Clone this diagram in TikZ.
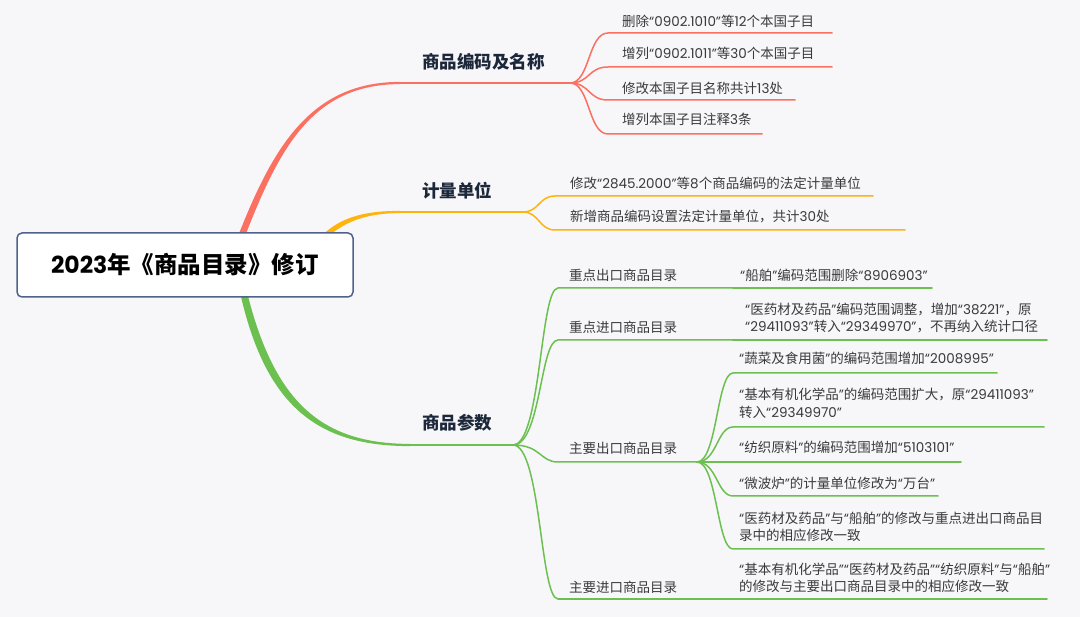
\documentclass[tikz,border=0pt]{standalone}
\usepackage{fontspec}
\setmainfont{Noto Sans CJK SC}
\newfontfamily\cjkfont{Noto Sans CJK SC}
\newfontfamily\latfont{Poppins}
\usetikzlibrary{calc}
\makeatletter
\chardef\latcls=10
\XeTeXcharclass"201C=\latcls
\XeTeXcharclass"201D=\latcls
\XeTeXcharclass"2E=\latcls
\@tempcnta="30
\loop\XeTeXcharclass\@tempcnta=\latcls\relax\ifnum\@tempcnta<"39 \advance\@tempcnta\@ne\repeat
\def\setlt#1{\XeTeXinterchartoks #1 \latcls={\latfont}\XeTeXinterchartoks \latcls #1={\cjkfont}}
\setlt{0}\setlt{1}\setlt{2}\setlt{3}\setlt{4095}
\makeatother
\definecolor{bgc}{RGB}{247,247,250}
\definecolor{redc}{RGB}{251,112,96}
\definecolor{yelc}{RGB}{255,180,10}
\definecolor{grnc}{RGB}{108,192,80}
\definecolor{rootc}{RGB}{79,98,140}
\definecolor{txtc}{RGB}{58,58,62}
\definecolor{lblc}{RGB}{28,40,58}
\tikzset{
  ctext/.style={anchor=west, inner sep=0pt, text=txtc, font=\fontsize{13.5}{17.5}\selectfont, align=left},
  blabel/.style={anchor=west, inner sep=0pt, text=lblc, font=\bfseries\fontsize{17.5}{20}\selectfont},
  conn/.style={line width=1.5pt, line cap=round},
  bline/.style={line width=2.2pt},
}
\begin{document}
\XeTeXinterchartokenstate=1
\begin{tikzpicture}[x=1pt,y=-1pt]
\useasboundingbox (0,0) rectangle (1080,617);
\fill[bgc] (0,0) rectangle (1080,617);
\path (185,265) coordinate (rootc0);
\coordinate (rs) at (240,240);
\coordinate (ys) at (320,241);
\coordinate (gs) at (243,290);
% red branch coordinates
\coordinate (b1s) at (400,83);
\coordinate (b1e) at (570,83);
\coordinate (c11s) at (608,33);  \coordinate (c11e) at (832,33);
\coordinate (c12s) at (608,67);  \coordinate (c12e) at (832,67);
\coordinate (c13s) at (608,100); \coordinate (c13e) at (795,100);
\coordinate (c14s) at (608,134); \coordinate (c14e) at (762,134);
% yellow
\coordinate (b2s) at (400,212);
\coordinate (b2e) at (523,212);
\coordinate (c21s) at (555,196); \coordinate (c21e) at (873,196);
\coordinate (c22s) at (555,230); \coordinate (c22e) at (905,230);
% green
\coordinate (b3s) at (410,445);
\coordinate (b3e) at (513,445);
\coordinate (c31s) at (558,288); \coordinate (c31e) at (733,288); \coordinate (g311e) at (932,288);
\coordinate (c32s) at (558,340); \coordinate (c32e) at (733,340); \coordinate (g321e) at (1047,340);
\coordinate (c33s) at (558,462); \coordinate (c33e) at (697,462);
\coordinate (g331s) at (733,373); \coordinate (g331e) at (997,373);
\coordinate (g332s) at (733,427); \coordinate (g332e) at (1044,427);
\coordinate (g333s) at (733,462); \coordinate (g333e) at (961,462);
\coordinate (g334s) at (733,496); \coordinate (g334e) at (938,496);
\coordinate (g335s) at (733,549); \coordinate (g335e) at (1044,549);
\coordinate (c34s) at (558,599); \coordinate (c34e) at (733,599); \coordinate (g341e) at (1047,599);

% tapered main branches
\fill[redc] ($(rs)+(-3.5,0)$) .. controls ($(rs)+(31.5,-90)$) and ($(b1s)+(-91,-1.2)$) .. ($(b1s)+(0,-1.1)$)
  -- ($(b1s)+(0,1.1)$) .. controls ($(b1s)+(-89,1.2)$) and ($(rs)+(38.5,-90)$) .. ($(rs)+(3.5,0)$) -- cycle;
\fill[yelc] ($(ys)+(-3,0)$) .. controls ($(ys)+(17,-24)$) and ($(b2s)+(-35,-1.2)$) .. ($(b2s)+(0,-1.1)$)
  -- ($(b2s)+(0,1.1)$) .. controls ($(b2s)+(-35,1.2)$) and ($(ys)+(23,-19)$) .. ($(ys)+(3,0)$) -- cycle;
\fill[grnc] ($(gs)+(-3.5,0)$) .. controls ($(gs)+(22,117)$) and ($(b3s)+(-92,1.2)$) .. ($(b3s)+(0,1.1)$)
  -- ($(b3s)+(0,-1.1)$) .. controls ($(b3s)+(-88,-1.2)$) and ($(gs)+(31,113)$) .. ($(gs)+(3.5,0)$) -- cycle;
\draw[redc, bline] (b1s) -- (b1e);
\draw[yelc, bline] (b2s) -- (b2e);
\draw[grnc, bline] (b3s) -- (b3e);

% red children
\foreach \c in {c11,c12,c13,c14}
  \draw[conn, redc] (b1e) .. controls ([xshift=20pt]b1e) and ([xshift=-20pt]\c s) .. (\c s) -- (\c e);
% yellow children
\foreach \c in {c21,c22}
  \draw[conn, yelc] (b2e) .. controls ([xshift=16pt]b2e) and ([xshift=-16pt]\c s) .. (\c s) -- (\c e);
% green children
\foreach \c in {c31,c32,c33,c34}
  \draw[conn, grnc] (b3e) .. controls ([xshift=28pt]b3e) and ([xshift=-18pt]\c s) .. (\c s) -- (\c e);
\draw[conn, grnc] (c31e) -- (g311e);
\draw[conn, grnc] (c32e) -- (g321e);
\draw[conn, grnc] (c34e) -- (g341e);
\foreach \g in {g331,g332,g333,g334,g335}
  \draw[conn, grnc] (c33e) .. controls ([xshift=20pt]c33e) and ([xshift=-16pt]\g s) .. (\g s) -- (\g e);

% root
\node[draw=rootc, line width=1.5pt, fill=white, rounded corners=5pt, minimum width=336pt, minimum height=64pt,
  inner sep=0pt, font=\bfseries\fontsize{23.5}{27}\selectfont, text=black] (root) at (rootc0) {2023年《商品目录》修订};

% branch labels
\node[blabel] (b1) at (422,62) {商品编码及名称};
\node[blabel] (b2) at (422,191) {计量单位};
\node[blabel] (b3) at (422,423) {商品参数};

% texts
\node[ctext] (t11) at (622,21) {删除“0902.1010”等12个本国子目};
\node[ctext] (t12) at (622,53) {增列“0902.1011”等30个本国子目};
\node[ctext] (t13) at (622,88) {修改本国子目名称共计13处};
\node[ctext] (t14) at (622,119) {增列本国子目注释3条};
\node[ctext] (t21) at (570,183) {修改“2845.2000”等8个商品编码的法定计量单位};
\node[ctext] (t22) at (570,217) {新增商品编码设置法定计量单位，共计30处};
\node[ctext] (t31) at (569,275) {重点出口商品目录};
\node[ctext] (t32) at (569,327) {重点进口商品目录};
\node[ctext] (t33) at (569,448) {主要出口商品目录};
\node[ctext] (t34) at (569,587) {主要进口商品目录};
\node[ctext] (g311) at (740,275) {“船舶”编码范围删除“8906903”};
\node[ctext] (g321) at (745,318) {“医药材及药品”编码范围调整，增加“38221”，原\\“29411093”转入“29349970”，不再纳入统计口径};
\node[ctext] (g331) at (739,358) {“蔬菜及食用菌”的编码范围增加“2008995”};
\node[ctext] (g332) at (739,403.5) {“基本有机化学品”的编码范围扩大，原“29411093”\\转入“29349970”};
\node[ctext] (g333) at (739,447) {“纺织原料”的编码范围增加“5103101”};
\node[ctext] (g334) at (739,483) {“微波炉”的计量单位修改为“万台”};
\node[ctext] (g335) at (739,527) {“医药材及药品”与“船舶”的修改与重点进出口商品目\\录中的相应修改一致};
\node[ctext] (g341) at (739,578) {“基本有机化学品”“医药材及药品”“纺织原料”与“船舶”\\的修改与主要出口商品目录中的相应修改一致};
\end{tikzpicture}
\end{document}
